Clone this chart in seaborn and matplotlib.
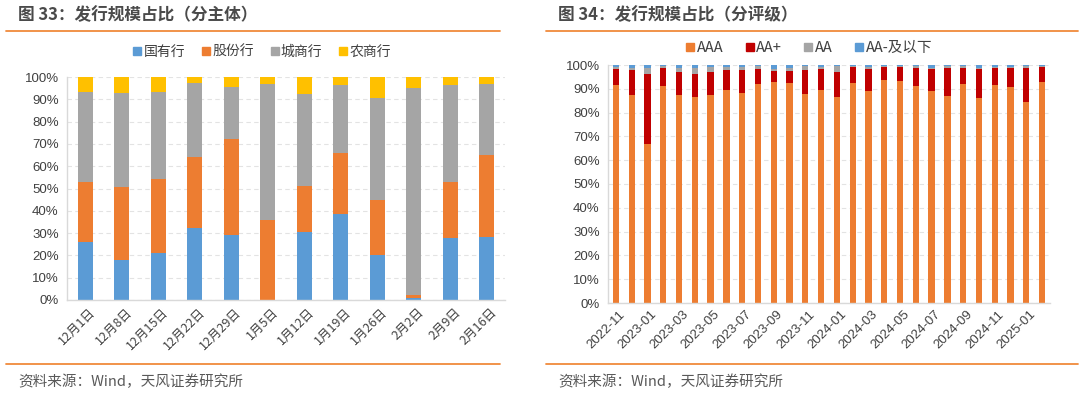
import numpy as np
import pandas as pd
import matplotlib
matplotlib.use("Agg")
import matplotlib.pyplot as plt
from matplotlib.lines import Line2D
import seaborn as sns

# ---------------- data ----------------
weeks = ["12月1日", "12月8日", "12月15日", "12月22日", "12月29日", "1月5日",
         "1月12日", "1月19日", "1月26日", "2月2日", "2月9日", "2月16日"]
state_owned = [26.1, 17.9, 21.2, 32.4, 29.3, 0.0, 30.7, 38.7, 20.3, 1.0, 27.8, 28.1]
joint_stock = [26.9, 32.8, 33.1, 31.9, 42.8, 35.8, 20.6, 27.1, 24.5, 1.2, 25.3, 37.1]
city_comm = [40.1, 42.1, 38.8, 33.0, 23.3, 61.1, 40.9, 30.5, 45.8, 92.9, 43.3, 31.7]
rural_comm = [6.9, 7.2, 6.9, 2.7, 4.6, 3.1, 7.8, 3.7, 9.4, 4.9, 3.6, 3.1]
left_series = ["国有行", "股份行", "城商行", "农商行"]

months = ["2022-11", "2022-12", "2023-01", "2023-02", "2023-03", "2023-04", "2023-05",
          "2023-06", "2023-07", "2023-08", "2023-09", "2023-10", "2023-11", "2023-12",
          "2024-01", "2024-02", "2024-03", "2024-04", "2024-05", "2024-06", "2024-07",
          "2024-08", "2024-09", "2024-10", "2024-11", "2024-12", "2025-01", "2025-02"]
aaa = [91.6, 87.3, 66.8, 91.0, 87.3, 86.7, 87.5, 89.4, 88.1, 92.2, 92.7, 92.4, 87.8, 89.6,
       86.7, 92.4, 89.1, 93.8, 93.3, 91.3, 89.1, 87.0, 92.2, 86.1, 91.6, 90.8, 84.6, 93.0]
aa_plus = [6.7, 10.5, 29.3, 7.6, 9.9, 9.7, 9.7, 8.6, 9.7, 6.1, 4.8, 5.1, 10.2, 8.7,
           10.5, 6.8, 9.2, 5.4, 5.9, 7.6, 9.2, 11.9, 6.7, 12.2, 7.0, 7.8, 14.3, 6.2]
aa = [0.9, 1.1, 2.5, 0.8, 1.7, 2.5, 2.0, 1.2, 1.4, 1.1, 0.8, 1.1, 1.7, 0.9,
      2.2, 0.5, 0.9, 0.5, 0.5, 0.5, 0.6, 0.5, 0.5, 0.3, 0.6, 0.6, 0.5, 0.5]
aa_minus = [0.8, 1.1, 1.4, 0.6, 1.1, 1.1, 0.8, 0.8, 0.8, 0.6, 1.7, 1.4, 0.3, 0.8,
            0.6, 0.3, 0.8, 0.3, 0.3, 0.6, 1.1, 0.6, 0.6, 1.4, 0.8, 0.8, 0.6, 0.3]
right_series = ["AAA", "AA+", "AA", "AA-及以下"]
month_labels = months[::2]

left_colors = ["#5B9BD5", "#ED7D31", "#A5A5A5", "#FFC000"]
right_colors = ["#ED7D31", "#C00000", "#A5A5A5", "#5B9BD5"]

# ---------------- style ----------------
sns.set_theme(style="white")
plt.rcParams["font.family"] = ["Noto Sans CJK SC", "DejaVu Sans"]
TXT = "#404040"
GRID = "#D9D9D9"
ORANGE_LINE = "#F08A3C"

W, H = 1080, 393
fig = plt.figure(figsize=(W / 100, H / 100), dpi=100)


def px_axes(x0, y_top, x1, y_bot):
    return fig.add_axes([x0 / W, 1 - y_bot / H, (x1 - x0) / W, (y_bot - y_top) / H])


def stacked(ax, cats, series_vals, colors):
    arr = np.array(series_vals, dtype=float)
    cums = np.cumsum(arr, axis=0)
    cums = cums / cums[-1] * 100.0
    for i in range(len(series_vals) - 1, -1, -1):
        df = pd.DataFrame({"cat": cats, "val": cums[i]})
        sns.barplot(data=df, x="cat", y="val", color=colors[i], width=0.4,
                    saturation=1, ax=ax, order=cats, edgecolor="none")


def style_axes(ax, n, tick_step, labels, label_pos, fs):
    ax.set_ylim(0, 100)
    ax.set_xlim(-0.5, n - 0.5)
    ax.set_yticks(np.arange(0, 101, 10))
    ax.set_yticklabels([f"{v}%" for v in range(0, 101, 10)], fontsize=9.5, color=TXT,
                       family=["Liberation Sans", "DejaVu Sans"])
    ax.set_xticks(label_pos)
    ax.set_xticklabels(labels, rotation=45, ha="right", rotation_mode="anchor",
                       fontsize=fs, color=TXT)
    ax.tick_params(axis="x", which="major", length=0, pad=4)
    ax.set_xticks(np.arange(-0.5, n, tick_step), minor=True)
    ax.tick_params(axis="x", which="minor", length=4, color=GRID, width=1)
    ax.tick_params(axis="y", length=4, color=GRID, width=1, pad=2)
    ax.set_xlabel("")
    ax.set_ylabel("")
    for s in ["top", "right"]:
        ax.spines[s].set_visible(False)
    for s in ["left", "bottom"]:
        ax.spines[s].set_color(GRID)
        ax.spines[s].set_linewidth(1)
    ax.yaxis.grid(True, linestyle=(0, (4, 3)), color="#E3E3E3", linewidth=0.8)
    ax.set_axisbelow(True)
    ax.set_facecolor("none")


# ---------------- left chart ----------------
axL = px_axes(67, 77, 505, 300)
stacked(axL, weeks, [state_owned, joint_stock, city_comm, rural_comm], left_colors)
style_axes(axL, len(weeks), 1, weeks, np.arange(len(weeks)) + 0.1, 9)

# ---------------- right chart ----------------
axR = px_axes(608, 65, 1050, 303)
stacked(axR, months, [aaa, aa_plus, aa, aa_minus], right_colors)
style_axes(axR, len(months), 2, month_labels, np.arange(0, len(months), 2) + 0.2, 9.5)
for t in axR.get_xticklabels():
    t.set_family(["Liberation Sans", "DejaVu Sans"])

# ---------------- legends ----------------
def legend(names, colors, cx, cy, fs, spacing):
    handles = [Line2D([], [], marker="s", linestyle="none", markersize=6,
                      markerfacecolor=c, markeredgecolor=c) for c in colors]
    fig.legend(handles, names, loc="center", bbox_to_anchor=(cx / W, 1 - cy / H),
               ncol=len(names), frameon=False, fontsize=fs, handlelength=0.6,
               handletextpad=0.15, columnspacing=spacing, labelcolor=TXT)


legend(left_series, left_colors, 262, 52, 10, 1.2)
legend(right_series, right_colors, 809, 48, 10.5, 1.5)

# ---------------- titles, rules, source ----------------
fig.text(18 / W, 1 - 15 / H, "图 33：发行规模占比（分主体）", fontsize=12, color="#4A4A4A",
         fontweight="bold", va="center", ha="left")
fig.text(558 / W, 1 - 15 / H, "图 34：发行规模占比（分评级）", fontsize=12, color="#4A4A4A",
         fontweight="bold", va="center", ha="left")
for (x0, x1) in [(6, 500), (546, 1078)]:
    for y in [31, 364]:
        fig.add_artist(Line2D([x0 / W, x1 / W], [1 - y / H, 1 - y / H],
                              color=ORANGE_LINE, linewidth=1.3))
fig.text(18 / W, 1 - 382 / H, "资料来源：Wind，天风证券研究所", fontsize=10.5, color="#595959",
         va="center", ha="left")
fig.text(558 / W, 1 - 382 / H, "资料来源：Wind，天风证券研究所", fontsize=10.5, color="#595959",
         va="center", ha="left")

fig.savefig("out.png", dpi=100, facecolor="white")
